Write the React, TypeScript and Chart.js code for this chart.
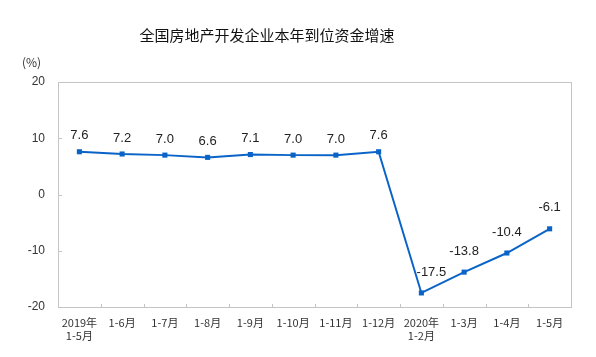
import React, { useEffect, useRef } from "react";
import { Chart, registerables } from "chart.js";

Chart.register(...registerables);

const TITLE = "全国房地产开发企业本年到位资金增速";
const UNIT = "(%)";
const categories: string[][] = [
  ["2019年", "1-5月"],
  ["1-6月"],
  ["1-7月"],
  ["1-8月"],
  ["1-9月"],
  ["1-10月"],
  ["1-11月"],
  ["1-12月"],
  ["2020年", "1-2月"],
  ["1-3月"],
  ["1-4月"],
  ["1-5月"],
];
const values: number[] = [7.6, 7.2, 7.0, 6.6, 7.1, 7.0, 7.0, 7.6, -17.5, -13.8, -10.4, -6.1];
const yTicks: number[] = [-20, -10, 0, 10, 20];

const LINE_COLOR = "#0a64c8";

const decorPlugin = {
  id: "decor",
  afterDraw(chart: any) {
    const { ctx, chartArea } = chart;
    const { left, right, top, bottom } = chartArea;
    ctx.save();
    // border
    ctx.strokeStyle = "#c4c4c4";
    ctx.lineWidth = 1;
    ctx.strokeRect(Math.round(left) + 0.5, Math.round(top) + 0.5, Math.round(right - left), Math.round(bottom - top));
    // inward ticks
    const xs = chart.scales.x;
    const ys = chart.scales.y;
    ctx.beginPath();
    const n = categories.length;
    for (let i = 1; i < n; i++) {
      const x = Math.round((xs.getPixelForValue(i - 1) + xs.getPixelForValue(i)) / 2) + 0.5;
      ctx.moveTo(x, Math.round(bottom));
      ctx.lineTo(x, Math.round(bottom) - 3);
    }
    yTicks.forEach((t) => {
      if (t === -20 || t === 20) return;
      const y = Math.round(ys.getPixelForValue(t)) + 0.5;
      ctx.moveTo(Math.round(left), y);
      ctx.lineTo(Math.round(left) + 4, y);
    });
    ctx.stroke();
    // title
    ctx.fillStyle = "#111";
    ctx.textAlign = "center";
    ctx.textBaseline = "middle";
    ctx.font = "15px 'Noto Sans CJK SC', sans-serif";
    ctx.fillText(TITLE, 267, 35);
    ctx.font = "12px 'Noto Sans CJK SC', sans-serif";
    ctx.textAlign = "left";
    ctx.fillStyle = "#333";
    ctx.fillText(UNIT, 22, 62);
    // data labels
    const meta = chart.getDatasetMeta(0);
    ctx.font = "13px 'Liberation Sans', Arial, sans-serif";
    ctx.fillStyle = "#222";
    ctx.textAlign = "center";
    meta.data.forEach((pt: any, i: number) => {
      const v = values[i];
      const dy = v >= 0 ? 16 : 21;
      const dx = i === 8 ? 10 : 0;
      ctx.fillText(v.toFixed(1), pt.x + dx, pt.y - dy);
    });
    ctx.restore();
  },
};

export default function App() {
  const ref = useRef<HTMLCanvasElement | null>(null);
  useEffect(() => {
    if (!ref.current) return;
    const chart = new Chart(ref.current, {
      type: "line",
      data: {
        labels: categories,
        datasets: [
          {
            data: values,
            borderColor: LINE_COLOR,
            backgroundColor: LINE_COLOR,
            borderWidth: 2,
            pointStyle: "rect",
            pointRadius: 3.6,
            pointBorderWidth: 0,
            tension: 0,
          },
        ],
      },
      options: {
        animation: false,
        responsive: true,
        maintainAspectRatio: false,
        layout: { padding: { top: 82, left: 0, right: 25, bottom: 0 } },
        plugins: { legend: { display: false }, tooltip: { enabled: false }, title: { display: false } },
        scales: {
          x: {
            offset: true,
            grid: { display: false, drawTicks: false },
            border: { display: false },
            ticks: {
              color: "#333",
              font: { size: 11, family: "'Noto Sans CJK SC', sans-serif" },
              padding: 9,
              maxRotation: 0,
              autoSkip: false,
            },
            afterFit: (s: any) => {
              s.height = 50;
            },
          },
          y: {
            min: -20,
            max: 20,
            grid: { display: false, drawTicks: false },
            border: { display: false },
            afterBuildTicks: (s: any) => {
              s.ticks = yTicks.map((v) => ({ value: v }));
            },
            ticks: {
              color: "#333",
              font: { size: 12, family: "'Liberation Sans', Arial, sans-serif" },
              padding: 13,
            },
            afterFit: (s: any) => {
              s.width = 58;
            },
          },
        },
      },
      plugins: [decorPlugin],
    });
    return () => chart.destroy();
  }, []);
  return (
    <div style={{ position: "fixed", left: 0, top: 0, width: 596, height: 357, background: "#fff" }}>
      <canvas ref={ref} />
    </div>
  );
}
